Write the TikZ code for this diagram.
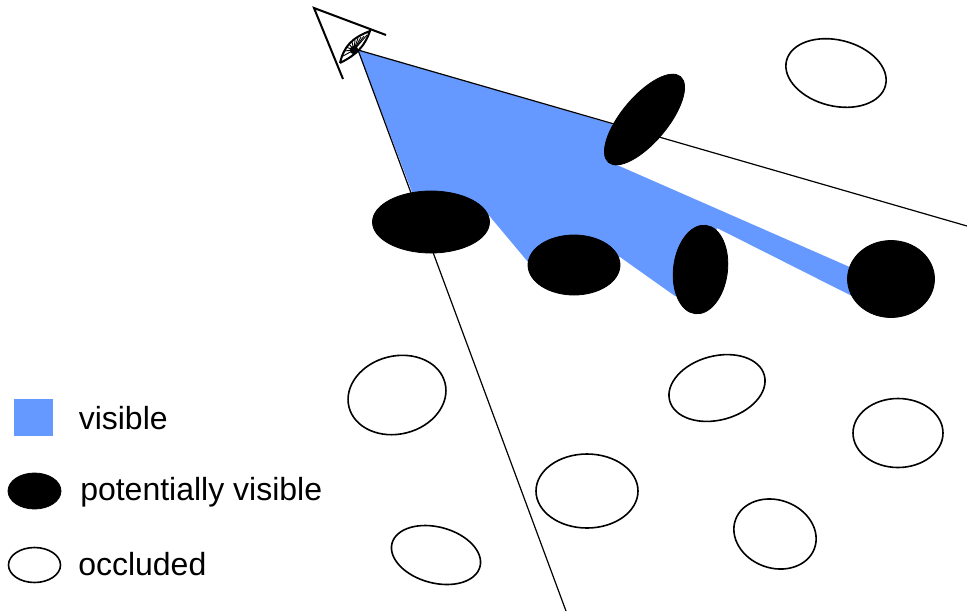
\documentclass[tikz,border=0pt]{standalone}
\usepackage{fontspec}
\setmainfont{Liberation Sans}
\usetikzlibrary{shapes.geometric}
\definecolor{visblue}{RGB}{102,153,255}
\tikzset{
  blackell/.style={ellipse,fill=black,draw=black,inner sep=0pt,line width=0.6pt},
  whiteell/.style={ellipse,fill=white,draw=black,inner sep=0pt,line width=1.2pt},
  legendtext/.style={anchor=base west,inner sep=0pt,font=\fontsize{24}{28}\selectfont},
  viewline/.style={draw=black,line width=0.9pt},
  eyeline/.style={draw=black,line width=1.5pt}
}
\newcommand{\myell}[6]{\node[#1,minimum width=#5*0.75pt,minimum height=#6*0.75pt,rotate=#4] (#2) at (#3) {};}
\begin{document}
\begin{tikzpicture}[x=0.75pt,y=-0.75pt]
\useasboundingbox (0,0) rectangle (967,612);
\coordinate (apex) at (358,50);
\coordinate (farR) at (967,226);
\coordinate (farL) at (566,611);
\fill[visblue] (apex) -- (612,124) -- (617,165) -- (852,268) -- (852,296) -- (717,228) -- (700,300) -- (675,296) -- (620,257) -- (528,262) -- (487,213) -- (412,192) -- cycle;
\draw[viewline] (apex) -- (farR);
\draw[viewline] (apex) -- (farL);
% eye
\coordinate (eyeA) at (314,8);
\coordinate (eyeB) at (386,35);
\coordinate (eyeC) at (343,79);
\coordinate (lidL) at (340,63);
\coordinate (lidR) at (370,31);
\coordinate (iris) at (354,50);
\draw[eyeline] (eyeB) -- (eyeA) -- (eyeC);
\draw[eyeline,fill=white] (lidL) .. controls (344,46) and (352,38) .. (lidR) .. controls (365,45) and (358,54) .. (lidL);
\foreach \ax/\ay in {343/56, 344/51, 346/47, 349/44, 352/42, 355/40, 358/38, 361/37, 364/36, 367/35}{
  \draw[black,line width=0.7pt] (\ax,\ay) -- (iris);
}
\fill[black] (iris) circle[radius=3.2pt];
\fill[black] (lidL) .. controls (347,58) and (355,56) .. (360,47) .. controls (358,54) and (350,58) .. (lidL);
% potentially visible
\myell{blackell}{pvA}{644.5,119.5}{50}{112}{46}
\myell{blackell}{pvB}{431,222}{0}{117}{62}
\myell{blackell}{pvC}{574,265}{0}{92}{60}
\myell{blackell}{pvD}{700.5,269.5}{-7}{54}{89}
\myell{blackell}{pvE}{891,279}{0}{87}{77}
% occluded
\myell{whiteell}{ocA}{836,73}{-14}{102}{66}
\myell{whiteell}{ocB}{397,395}{14}{99}{78}
\myell{whiteell}{ocC}{717,388}{15}{98}{64}
\myell{whiteell}{ocD}{898,433}{0}{90}{69}
\myell{whiteell}{ocE}{587,491}{0}{102}{74}
\myell{whiteell}{ocF}{775,534}{-20}{84}{68}
\myell{whiteell}{ocG}{436,555}{-15}{91}{56}
% legend
\fill[visblue] (14,399) rectangle (53,436);
\myell{blackell}{lgB}{34.5,491}{0}{53}{36}
\myell{whiteell}{lgW}{34.5,565}{0}{52}{35}
\node[legendtext] (tA) at (78.5,429) {visible};
\node[legendtext] (tB) at (80,500) {potentially visible};
\node[legendtext] (tC) at (78,575) {occluded};
\end{tikzpicture}
\end{document}
